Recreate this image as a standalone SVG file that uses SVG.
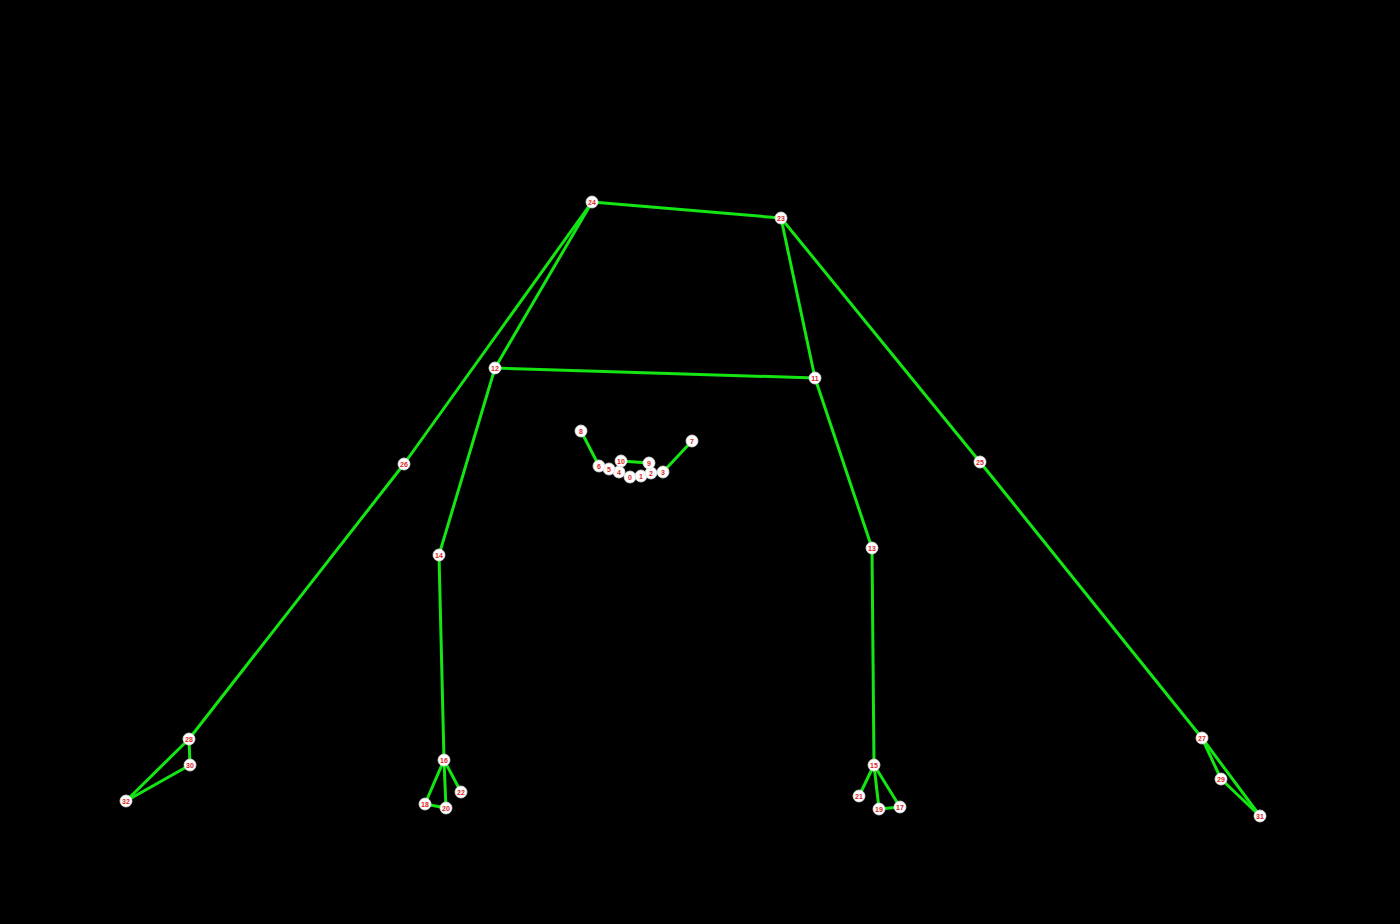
<svg xmlns="http://www.w3.org/2000/svg" width="1400" height="924" viewBox="0 0 1400 924">
<style>
.e{stroke:#14e614;stroke-width:3;stroke-linecap:round;fill:none}
.n circle{fill:#ffffff;stroke:#dddddd;stroke-width:0.8}
.n text{fill:#e01e1e;font-family:"Liberation Sans",Arial,sans-serif;font-size:7px;font-weight:bold;text-anchor:middle;dominant-baseline:central}
</style>
<rect width="1400" height="924" fill="#000000"/>
<g id="connectors">
<line class="e" x1="592" y1="202" x2="781" y2="218"/>
<line class="e" x1="592" y1="202" x2="495" y2="368"/>
<line class="e" x1="781" y1="218" x2="815" y2="378"/>
<line class="e" x1="495" y1="368" x2="815" y2="378"/>
<line class="e" x1="592" y1="202" x2="404" y2="464"/>
<line class="e" x1="404" y1="464" x2="189" y2="739"/>
<line class="e" x1="189" y1="739" x2="190" y2="765"/>
<line class="e" x1="189" y1="739" x2="126" y2="801"/>
<line class="e" x1="190" y1="765" x2="126" y2="801"/>
<line class="e" x1="781" y1="218" x2="980" y2="462"/>
<line class="e" x1="980" y1="462" x2="1202" y2="738"/>
<line class="e" x1="1202" y1="738" x2="1221" y2="779"/>
<line class="e" x1="1221" y1="779" x2="1260" y2="816"/>
<line class="e" x1="1202" y1="738" x2="1260" y2="816"/>
<line class="e" x1="495" y1="368" x2="439" y2="555"/>
<line class="e" x1="439" y1="555" x2="444" y2="760"/>
<line class="e" x1="444" y1="760" x2="425" y2="804"/>
<line class="e" x1="444" y1="760" x2="446" y2="808"/>
<line class="e" x1="444" y1="760" x2="461" y2="792"/>
<line class="e" x1="425" y1="804" x2="446" y2="808"/>
<line class="e" x1="815" y1="378" x2="872" y2="548"/>
<line class="e" x1="872" y1="548" x2="874" y2="765"/>
<line class="e" x1="874" y1="765" x2="859" y2="796"/>
<line class="e" x1="874" y1="765" x2="879" y2="809"/>
<line class="e" x1="874" y1="765" x2="900" y2="807"/>
<line class="e" x1="879" y1="809" x2="900" y2="807"/>
<line class="e" x1="630" y1="477" x2="641" y2="476"/>
<line class="e" x1="641" y1="476" x2="651" y2="473"/>
<line class="e" x1="651" y1="473" x2="663" y2="472"/>
<line class="e" x1="663" y1="472" x2="692" y2="441"/>
<line class="e" x1="630" y1="477" x2="619" y2="472"/>
<line class="e" x1="619" y1="472" x2="609" y2="469"/>
<line class="e" x1="609" y1="469" x2="599" y2="466"/>
<line class="e" x1="599" y1="466" x2="581" y2="431"/>
<line class="e" x1="621" y1="461" x2="649" y2="463"/>
</g>
<g id="n0" class="n"><circle cx="630" cy="477" r="6"/><text x="630" y="477">0</text></g>
<g id="n1" class="n"><circle cx="641" cy="476" r="6"/><text x="641" y="476">1</text></g>
<g id="n2" class="n"><circle cx="651" cy="473" r="6"/><text x="651" y="473">2</text></g>
<g id="n3" class="n"><circle cx="663" cy="472" r="6"/><text x="663" y="472">3</text></g>
<g id="n4" class="n"><circle cx="619" cy="472" r="6"/><text x="619" y="472">4</text></g>
<g id="n5" class="n"><circle cx="609" cy="469" r="6"/><text x="609" y="469">5</text></g>
<g id="n6" class="n"><circle cx="599" cy="466" r="6"/><text x="599" y="466">6</text></g>
<g id="n7" class="n"><circle cx="692" cy="441" r="6"/><text x="692" y="441">7</text></g>
<g id="n8" class="n"><circle cx="581" cy="431" r="6"/><text x="581" y="431">8</text></g>
<g id="n9" class="n"><circle cx="649" cy="463" r="6"/><text x="649" y="463">9</text></g>
<g id="n10" class="n"><circle cx="621" cy="461" r="6"/><text x="621" y="461">10</text></g>
<g id="n11" class="n"><circle cx="815" cy="378" r="6"/><text x="815" y="378">11</text></g>
<g id="n12" class="n"><circle cx="495" cy="368" r="6"/><text x="495" y="368">12</text></g>
<g id="n13" class="n"><circle cx="872" cy="548" r="6"/><text x="872" y="548">13</text></g>
<g id="n14" class="n"><circle cx="439" cy="555" r="6"/><text x="439" y="555">14</text></g>
<g id="n15" class="n"><circle cx="874" cy="765" r="6"/><text x="874" y="765">15</text></g>
<g id="n16" class="n"><circle cx="444" cy="760" r="6"/><text x="444" y="760">16</text></g>
<g id="n17" class="n"><circle cx="900" cy="807" r="6"/><text x="900" y="807">17</text></g>
<g id="n18" class="n"><circle cx="425" cy="804" r="6"/><text x="425" y="804">18</text></g>
<g id="n19" class="n"><circle cx="879" cy="809" r="6"/><text x="879" y="809">19</text></g>
<g id="n20" class="n"><circle cx="446" cy="808" r="6"/><text x="446" y="808">20</text></g>
<g id="n21" class="n"><circle cx="859" cy="796" r="6"/><text x="859" y="796">21</text></g>
<g id="n22" class="n"><circle cx="461" cy="792" r="6"/><text x="461" y="792">22</text></g>
<g id="n23" class="n"><circle cx="781" cy="218" r="6"/><text x="781" y="218">23</text></g>
<g id="n24" class="n"><circle cx="592" cy="202" r="6"/><text x="592" y="202">24</text></g>
<g id="n25" class="n"><circle cx="980" cy="462" r="6"/><text x="980" y="462">25</text></g>
<g id="n26" class="n"><circle cx="404" cy="464" r="6"/><text x="404" y="464">26</text></g>
<g id="n27" class="n"><circle cx="1202" cy="738" r="6"/><text x="1202" y="738">27</text></g>
<g id="n28" class="n"><circle cx="189" cy="739" r="6"/><text x="189" y="739">28</text></g>
<g id="n29" class="n"><circle cx="1221" cy="779" r="6"/><text x="1221" y="779">29</text></g>
<g id="n30" class="n"><circle cx="190" cy="765" r="6"/><text x="190" y="765">30</text></g>
<g id="n31" class="n"><circle cx="1260" cy="816" r="6"/><text x="1260" y="816">31</text></g>
<g id="n32" class="n"><circle cx="126" cy="801" r="6"/><text x="126" y="801">32</text></g>
</svg>
